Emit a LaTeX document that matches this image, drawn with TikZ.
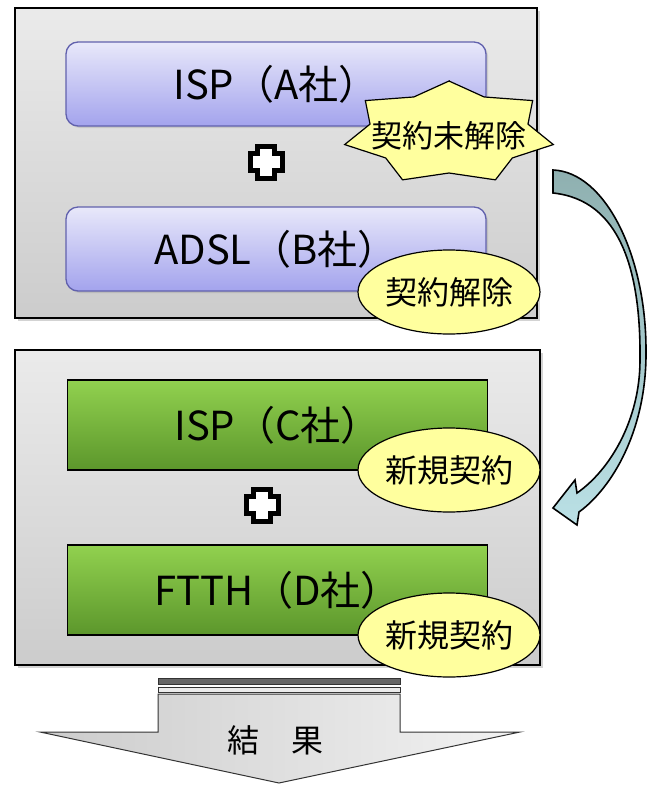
\documentclass[tikz,border=0pt]{standalone}
\usepackage{fontspec}
\setmainfont{Noto Sans CJK JP}
\definecolor{panelhi}{rgb}{0.92, 0.92, 0.92}
\definecolor{panello}{rgb}{0.80, 0.80, 0.80}
\definecolor{lilac}{rgb}{0.91, 0.91, 0.98}
\definecolor{lilacdeep}{rgb}{0.64, 0.64, 0.93}
\definecolor{lilacline}{rgb}{0.38, 0.38, 0.68}
\definecolor{grass}{rgb}{0.57, 0.82, 0.31}
\definecolor{grassdeep}{rgb}{0.36, 0.59, 0.17}
\definecolor{cream}{rgb}{1.0, 1.0, 0.62}
\definecolor{steel}{rgb}{0.56, 0.69, 0.69}
\definecolor{ice}{rgb}{0.73, 0.88, 0.90}
\usepackage{tikz}
\usetikzlibrary{positioning, shapes.geometric, shadows}

\begin{document}
\begin{tikzpicture}[x=1pt, y=-1pt,
			panelStyle/.style={draw=black, line width=1.4pt, top color=panelhi, bottom color=panello,
				drop shadow={opacity=0.35, shadow xshift=3pt, shadow yshift=-3pt}, inner sep=0pt},
			companyStyle/.style={line width=1.3pt, minimum width=420pt, inner sep=0pt,
				font=\fontsize{40}{48}\selectfont},
			isp/.style={companyStyle, draw=lilacline, rounded corners=12pt, minimum height=84pt,
				top color=lilac, bottom color=lilacdeep, drop shadow={opacity=0.25, shadow xshift=2pt, shadow yshift=-2pt}},
			fiber/.style={companyStyle, draw=black, minimum height=90pt,
				top color=grass, bottom color=grassdeep},
			tagStyle/.style={draw=black, line width=1.2pt, fill=cream, ellipse, inner sep=0pt,
				minimum width=182pt, minimum height=84pt, font=\fontsize{32}{36}\selectfont},
			plusSign/.style={draw=black, line width=5pt, fill=white, line join=miter},
			burstStyle/.style={draw=black, line width=1.2pt, fill=cream, line join=miter},
			bendArrow/.style={draw=black, line width=1.6pt, top color=steel, bottom color=ice, line join=miter},
			resultArrow/.style={draw=black!80, line width=1pt, left color=black!20, right color=black!5}]
			
			\useasboundingbox (0,0) rectangle (646,785);
			
			% before
			\node[panelStyle, minimum width=522pt, minimum height=310pt] (before) at (276,163) {};
			\node[isp] (ispA) at (276,84) {ISP（A社）};
			\node[isp] (adslB) at (276,249) {ADSL（B社）};
			
			% after
			\node[panelStyle, minimum width=525pt, minimum height=315pt] (after) at (277.5,507.5) {};
			\node[fiber] (ispC) at (277.5,425) {ISP（C社）};
			\node[fiber] (ftthD) at (277.5,590) {FTTH（D社）};
			
			% plus signs
			\coordinate (plus1) at (266,162);
			\coordinate (plus2) at (262,505);
			\foreach \p in {plus1,plus2}
			\draw[plusSign] (\p) +(-8.5,-16) -- +(8.5,-16) -- +(8.5,-8.5) -- +(16,-8.5) -- +(16,8.5) -- +(8.5,8.5)
				-- +(8.5,16) -- +(-8.5,16) -- +(-8.5,8.5) -- +(-16,8.5) -- +(-16,-8.5) -- +(-8.5,-8.5) -- cycle;
			
			% burst
			\coordinate (burst) at (449,133);
			\draw[burstStyle] (burst) +(90:107pt and 52pt)
				\foreach \k [evaluate=\k as \a using 90+\k*360/7] in {0,...,6}
				{ -- +({\a+180/7}:81pt and 40pt) -- +({\a+360/7}:107pt and 52pt) } -- cycle;
			\node[font=\fontsize{31}{36}\selectfont] (open) at (449,136) {契約未解除};
			
			% tags
			\node[tagStyle] (cancel) at (449,292) {契約解除};
			\node[tagStyle] (new1) at (449,470) {新規契約};
			\node[tagStyle] (new2) at (449,635) {新規契約};
			
			% switch arrow
			\draw[bendArrow] (553,170) .. controls (605,172) and (646,255) .. (646,350)
				.. controls (647,430) and (612,488) .. (579,512)
				-- (577,525) -- (553,508) -- (575,480) -- (577,493)
				.. controls (610,470) and (640,420) .. (640,360)
				.. controls (641,270) and (620,200) .. (553,193) -- cycle;
			
			% result
			\draw[draw=black!80, line width=1pt, fill=black!60] (158,678) rectangle (400,684);
			\draw[draw=black!80, line width=1pt, fill=black!8] (158,687) rectangle (400,692);
			\draw[resultArrow] (158,694) -- (400,694) -- (400,732) -- (520,732) -- (279,783)
				-- (40,732) -- (158,732) -- cycle;
			\node[font=\fontsize{32}{36}\selectfont] (result) at (275,740) {結　果};
		\end{tikzpicture}
\end{document}
